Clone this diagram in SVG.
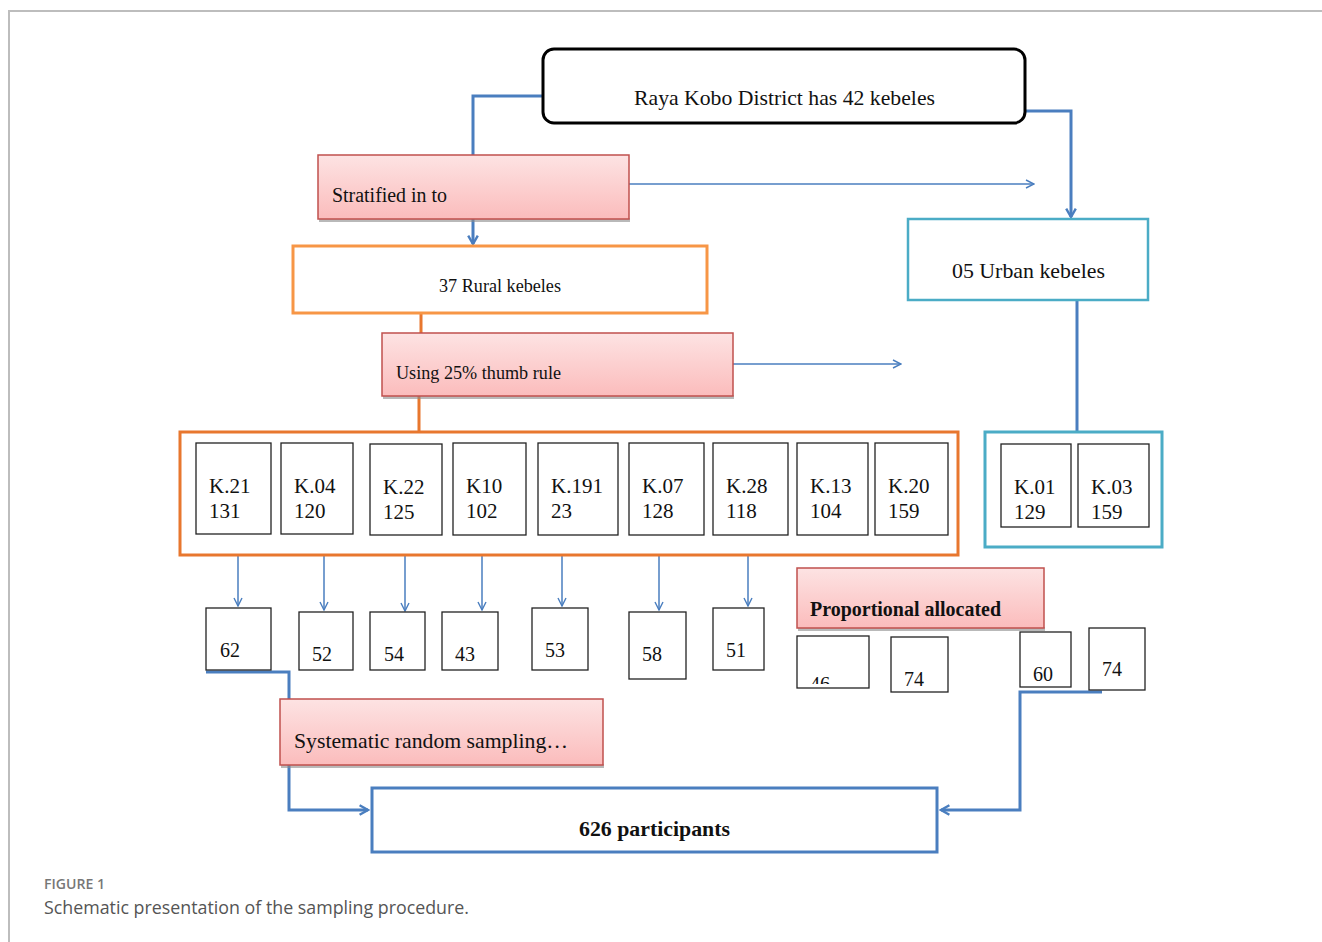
<svg xmlns="http://www.w3.org/2000/svg" width="1322" height="942" viewBox="0 0 1322 942">
<defs>
<linearGradient id="pink" x1="0" y1="0" x2="0" y2="1">
<stop offset="0" stop-color="#fde3e3"/>
<stop offset="1" stop-color="#fbbcbc"/>
</linearGradient>
<marker id="open" viewBox="0 0 10 10" refX="9" refY="5" markerWidth="10" markerHeight="10" markerUnits="userSpaceOnUse" orient="auto">
<path d="M1,1 L9,5 L1,9" fill="none" stroke="#4a7ebf" stroke-width="1.4"/>
</marker>
<marker id="openB" viewBox="0 0 10 10" refX="8" refY="5" markerWidth="12" markerHeight="12" markerUnits="userSpaceOnUse" orient="auto">
<path d="M1,1 L8,5 L1,9" fill="none" stroke="#4a7ebf" stroke-width="2"/>
</marker>
<clipPath id="clip46"><rect x="797" y="636" width="72" height="48"/></clipPath>
</defs>
<style>
.serif{font-family:"Liberation Serif","Times New Roman",serif;fill:#111}
.pink{fill:url(#pink);stroke:#c0504d;stroke-width:1.5}
.shadow{fill:#8a8a8a;opacity:0.6}
.kbox{fill:#fff;stroke:#222;stroke-width:1.3}
.thin{fill:none;stroke:#4a7ebf;stroke-width:1.5}
.thick{fill:none;stroke:#4a7ebf;stroke-width:3}
.kt{font-size:21px}
.cap{font-family:"Open Sans","Noto Sans",sans-serif}
</style>
<rect width="1322" height="942" fill="#fff"/>
<path d="M9,942 V11 H1322" fill="none" stroke="#bdbdbd" stroke-width="2"/>

<g id="connectors">
<path class="thick" d="M543,96 H473 V244" marker-end="url(#openB)"/>
<path class="thick" d="M1025,111 H1071 V217" marker-end="url(#openB)"/>
<path class="thin" d="M629,184 H1034" marker-end="url(#open)"/>
<path d="M421,313 V333 M419,396 V432" fill="none" stroke="#e8772e" stroke-width="3"/>
<path class="thin" d="M733,364 H901" marker-end="url(#open)"/>
<path class="thick" d="M1077,300 V432"/>
<path class="thin" d="M238,556 V606" marker-end="url(#open)"/>
<path class="thin" d="M324,556 V610" marker-end="url(#open)"/>
<path class="thin" d="M405,556 V611" marker-end="url(#open)"/>
<path class="thin" d="M482,556 V610" marker-end="url(#open)"/>
<path class="thin" d="M562,556 V606" marker-end="url(#open)"/>
<path class="thin" d="M659,556 V610" marker-end="url(#open)"/>
<path class="thin" d="M748,556 V606" marker-end="url(#open)"/>
<path class="thick" d="M206,672 H289 V810 H368" marker-end="url(#openB)"/>
<path class="thick" d="M1102,692 H1020 V810 H941" marker-end="url(#openB)"/>
</g>

<g id="district">
<rect x="543" y="49" width="482" height="74" rx="11" fill="#fff" stroke="#000" stroke-width="3"/>
<text class="serif" x="634" y="105" font-size="21" textLength="301" lengthAdjust="spacingAndGlyphs">Raya Kobo District has 42 kebeles</text>
</g>

<g id="stratified">
<rect class="shadow" x="319" y="218" width="311" height="4"/>
<rect class="pink" x="318" y="155" width="311" height="64"/>
<text class="serif" x="332" y="202" font-size="20" textLength="115" lengthAdjust="spacingAndGlyphs">Stratified in to</text>
</g>

<g id="urban">
<rect x="908" y="219" width="240" height="81" fill="#fff" stroke="#4bacc6" stroke-width="2.5"/>
<text class="serif" x="952" y="278" font-size="21" textLength="153" lengthAdjust="spacingAndGlyphs">05 Urban kebeles</text>
</g>

<g id="rural">
<rect x="293" y="246" width="414" height="67" fill="#fff" stroke="#f79646" stroke-width="3"/>
<text class="serif" x="439" y="292" font-size="18" textLength="122" lengthAdjust="spacingAndGlyphs">37 Rural kebeles</text>
</g>

<g id="thumb">
<rect class="shadow" x="383" y="395" width="351" height="4"/>
<rect class="pink" x="382" y="333" width="351" height="63"/>
<text class="serif" x="396" y="379" font-size="18" textLength="165" lengthAdjust="spacingAndGlyphs">Using 25% thumb rule</text>
</g>

<g id="rural-selected">
<rect x="180" y="432" width="778" height="123" fill="none" stroke="#e8772e" stroke-width="3"/>
<rect class="kbox" x="196" y="443" width="75" height="91"/>
<text class="serif kt" x="209" y="493">K.21</text><text class="serif kt" x="209" y="518">131</text>
<rect class="kbox" x="281" y="443" width="72" height="91"/>
<text class="serif kt" x="294" y="493">K.04</text><text class="serif kt" x="294" y="518">120</text>
<rect class="kbox" x="370" y="444" width="72" height="91"/>
<text class="serif kt" x="383" y="494">K.22</text><text class="serif kt" x="383" y="519">125</text>
<rect class="kbox" x="453" y="443" width="73" height="92"/>
<text class="serif kt" x="466" y="493">K10</text><text class="serif kt" x="466" y="518">102</text>
<rect class="kbox" x="538" y="443" width="80" height="92"/>
<text class="serif kt" x="551" y="493">K.191</text><text class="serif kt" x="551" y="518">23</text>
<rect class="kbox" x="629" y="443" width="75" height="92"/>
<text class="serif kt" x="642" y="493">K.07</text><text class="serif kt" x="642" y="518">128</text>
<rect class="kbox" x="713" y="443" width="75" height="92"/>
<text class="serif kt" x="726" y="493">K.28</text><text class="serif kt" x="726" y="518">118</text>
<rect class="kbox" x="797" y="443" width="71" height="92"/>
<text class="serif kt" x="810" y="493">K.13</text><text class="serif kt" x="810" y="518">104</text>
<rect class="kbox" x="875" y="443" width="73" height="92"/>
<text class="serif kt" x="888" y="493">K.20</text><text class="serif kt" x="888" y="518">159</text>
</g>

<g id="urban-selected">
<rect x="985" y="432" width="177" height="115" fill="none" stroke="#4bacc6" stroke-width="3"/>
<rect class="kbox" x="1001" y="444" width="70" height="83"/>
<text class="serif kt" x="1014" y="494">K.01</text><text class="serif kt" x="1014" y="519">129</text>
<rect class="kbox" x="1078" y="444" width="71" height="83"/>
<text class="serif kt" x="1091" y="494">K.03</text><text class="serif kt" x="1091" y="519">159</text>
</g>

<g id="sample-sizes">
<rect class="kbox" x="206" y="608" width="65" height="62"/><text class="serif" x="220" y="657" font-size="20">62</text>
<rect class="kbox" x="299" y="612" width="54" height="58"/><text class="serif" x="312" y="661" font-size="20">52</text>
<rect class="kbox" x="370" y="612" width="55" height="58"/><text class="serif" x="384" y="661" font-size="20">54</text>
<rect class="kbox" x="442" y="612" width="56" height="58"/><text class="serif" x="455" y="661" font-size="20">43</text>
<rect class="kbox" x="532" y="608" width="56" height="62"/><text class="serif" x="545" y="657" font-size="20">53</text>
<rect class="kbox" x="629" y="612" width="57" height="67"/><text class="serif" x="642" y="661" font-size="20">58</text>
<rect class="kbox" x="713" y="608" width="51" height="62"/><text class="serif" x="726" y="657" font-size="20">51</text>
<rect class="kbox" x="797" y="636" width="72" height="52"/><text class="serif" x="810" y="691" font-size="20" clip-path="url(#clip46)">46</text>
<rect class="kbox" x="891" y="637" width="57" height="55"/><text class="serif" x="904" y="686" font-size="20">74</text>
<rect class="kbox" x="1020" y="632" width="51" height="55"/><text class="serif" x="1033" y="681" font-size="20">60</text>
<rect class="kbox" x="1089" y="628" width="56" height="62"/><text class="serif" x="1102" y="676" font-size="20">74</text>
</g>

<g id="proportional">
<rect class="shadow" x="798" y="627" width="247" height="4"/>
<rect class="pink" x="797" y="568" width="247" height="60"/>
<text class="serif" x="810" y="616" font-size="20" font-weight="bold" textLength="191" lengthAdjust="spacingAndGlyphs">Proportional allocated</text>
</g>

<g id="systematic">
<rect class="shadow" x="281" y="764" width="323" height="4"/>
<rect class="pink" x="280" y="699" width="323" height="66"/>
<text class="serif" x="294" y="748" font-size="21" textLength="274" lengthAdjust="spacingAndGlyphs">Systematic random sampling…</text>
</g>

<g id="participants">
<rect x="372" y="788" width="565" height="64" fill="#fff" stroke="#4a7ebf" stroke-width="3"/>
<text class="serif" x="579" y="836" font-size="21" font-weight="bold" textLength="151" lengthAdjust="spacingAndGlyphs">626 participants</text>
</g>

<g id="caption">
<text class="cap" x="44" y="889" font-size="13.5" font-weight="600" fill="#777" textLength="61" lengthAdjust="spacingAndGlyphs">FIGURE 1</text>
<text class="cap" x="44" y="914" font-size="18" fill="#555" textLength="425" lengthAdjust="spacingAndGlyphs">Schematic presentation of the sampling procedure.</text>
</g>
</svg>
